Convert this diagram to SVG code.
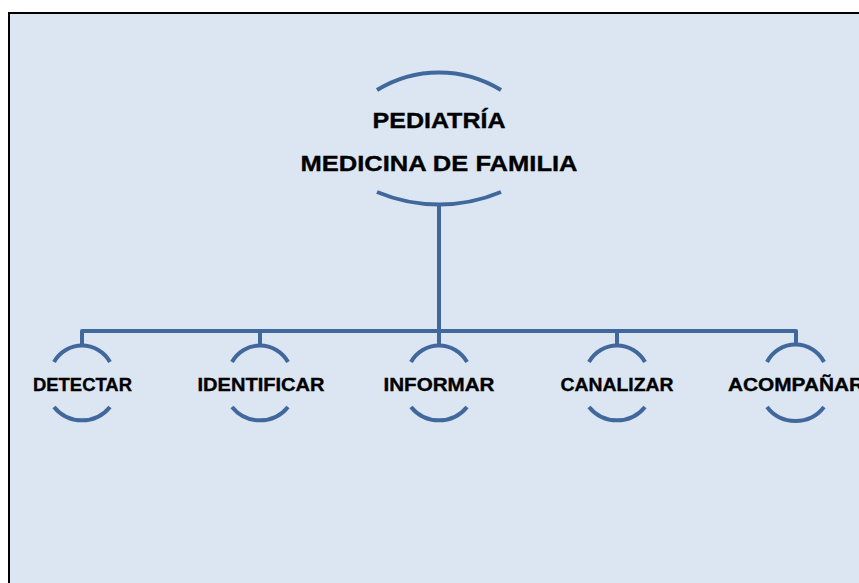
<svg xmlns="http://www.w3.org/2000/svg" width="859" height="583" viewBox="0 0 859 583">
<style>
.arc{fill:none;stroke:#41689c;stroke-width:4;stroke-linecap:butt}
.ln{fill:none;stroke:#41689c;stroke-width:4;stroke-linejoin:round}
.t{font-family:"Liberation Sans",Arial,sans-serif;font-weight:bold;fill:#000;stroke:#000;stroke-width:0.35;text-anchor:middle}
.big{font-size:22px}
.sm{font-size:18.5px}
</style>
<rect x="0" y="0" width="859" height="583" fill="#ffffff"/>
<rect x="9" y="13" width="860" height="580" fill="#dce6f2" stroke="#000" stroke-width="2"/>
<g id="connectors">
<path class="ln" d="M439 206 V331"/>
<path class="ln" d="M82 346 V331 H796 V346"/>
<path class="ln" d="M260 331 V346"/>
<path class="ln" d="M439 331 V346"/>
<path class="ln" d="M617 331 V346"/>
</g>
<g id="root">
<path class="arc" d="M377 90 A118 118 0 0 1 501 90"/>
<path class="arc" d="M377 192 A160 160 0 0 0 501 192"/>
<text class="t big" x="439" y="127.5" textLength="133" lengthAdjust="spacingAndGlyphs">PEDIATRÍA</text>
<text class="t big" x="439" y="170.5" textLength="277" lengthAdjust="spacingAndGlyphs">MEDICINA DE FAMILIA</text>
</g>
<g id="detectar">
<path class="arc" d="M54 362 A32 32 0 0 1 110 362"/>
<path class="arc" d="M54 407 A36 36 0 0 0 110 407"/>
<text class="t sm" x="82.5" y="390.7" textLength="99" lengthAdjust="spacingAndGlyphs">DETECTAR</text>
</g>
<g id="identificar">
<path class="arc" d="M232 362 A32 32 0 0 1 288 362"/>
<path class="arc" d="M232 407 A36 36 0 0 0 288 407"/>
<text class="t sm" x="261" y="390.7" textLength="127" lengthAdjust="spacingAndGlyphs">IDENTIFICAR</text>
</g>
<g id="informar">
<path class="arc" d="M411 362 A32 32 0 0 1 467 362"/>
<path class="arc" d="M411 407 A36 36 0 0 0 467 407"/>
<text class="t sm" x="439" y="390.7" textLength="111" lengthAdjust="spacingAndGlyphs">INFORMAR</text>
</g>
<g id="canalizar">
<path class="arc" d="M589 362 A32 32 0 0 1 645 362"/>
<path class="arc" d="M589 407 A36 36 0 0 0 645 407"/>
<text class="t sm" x="617" y="390.7" textLength="113" lengthAdjust="spacingAndGlyphs">CANALIZAR</text>
</g>
<g id="acompanar">
<path class="arc" d="M767 362 A32 32 0 0 1 824 362"/>
<path class="arc" d="M767 407 A36 36 0 0 0 824 407"/>
<text class="t sm" x="796" y="390.7" textLength="136" lengthAdjust="spacingAndGlyphs">ACOMPAÑAR</text>
</g>
</svg>
